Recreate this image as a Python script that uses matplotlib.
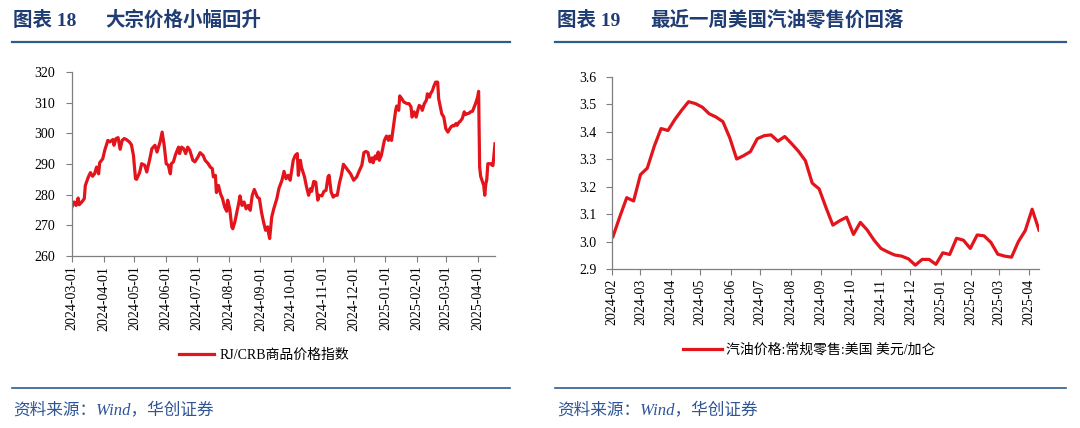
import pandas as pd
import matplotlib
matplotlib.use('Agg')
from matplotlib import pyplot as plt
import matplotlib.dates as mdates
from matplotlib.lines import Line2D
from matplotlib.ticker import FormatStrFormatter

plt.rcParams['font.family'] = ['Liberation Serif', 'Noto Sans CJK SC']
plt.rcParams['axes.unicode_minus'] = False

# 图表18 RJ/CRB商品价格指数
crb_dates = [
    '2024-03-01', '2024-03-03', '2024-03-05', '2024-03-07', '2024-03-08', '2024-03-11', '2024-03-13', '2024-03-14',
    '2024-03-17', '2024-03-19', '2024-03-21', '2024-03-23', '2024-03-25', '2024-03-27', '2024-03-28', '2024-03-31',
    '2024-04-02', '2024-04-05', '2024-04-07', '2024-04-10', '2024-04-11', '2024-04-13', '2024-04-15', '2024-04-17',
    '2024-04-19', '2024-04-21', '2024-04-23', '2024-04-26', '2024-04-28', '2024-04-30',
    '2024-05-02', '2024-05-03', '2024-05-06', '2024-05-08', '2024-05-11', '2024-05-13', '2024-05-16', '2024-05-18',
    '2024-05-21', '2024-05-23', '2024-05-26', '2024-05-28', '2024-05-30',
    '2024-06-01', '2024-06-03', '2024-06-05', '2024-06-06', '2024-06-08', '2024-06-10', '2024-06-13', '2024-06-14',
    '2024-06-16', '2024-06-18', '2024-06-20', '2024-06-22', '2024-06-24', '2024-06-27', '2024-06-29',
    '2024-07-02', '2024-07-04', '2024-07-07', '2024-07-09', '2024-07-12', '2024-07-14', '2024-07-16', '2024-07-17',
    '2024-07-19', '2024-07-20', '2024-07-22', '2024-07-24', '2024-07-26', '2024-07-28', '2024-07-30', '2024-07-31',
    '2024-08-02', '2024-08-04', '2024-08-05', '2024-08-07', '2024-08-09', '2024-08-11', '2024-08-12', '2024-08-14',
    '2024-08-16', '2024-08-18', '2024-08-20', '2024-08-22', '2024-08-24', '2024-08-26', '2024-08-29', '2024-08-31',
    '2024-09-02', '2024-09-04', '2024-09-06', '2024-09-08', '2024-09-09', '2024-09-10', '2024-09-12', '2024-09-14',
    '2024-09-17', '2024-09-19', '2024-09-22', '2024-09-24', '2024-09-26', '2024-09-28', '2024-09-30',
    '2024-10-03', '2024-10-05', '2024-10-07', '2024-10-08', '2024-10-10', '2024-10-11', '2024-10-14', '2024-10-16',
    '2024-10-18', '2024-10-20', '2024-10-21', '2024-10-23', '2024-10-25', '2024-10-27', '2024-10-28', '2024-10-31',
    '2024-11-02', '2024-11-04', '2024-11-06', '2024-11-07', '2024-11-09', '2024-11-11', '2024-11-13', '2024-11-15',
    '2024-11-17', '2024-11-19', '2024-11-21', '2024-11-23', '2024-11-26', '2024-11-28',
    '2024-12-01', '2024-12-04', '2024-12-06', '2024-12-09', '2024-12-11', '2024-12-13', '2024-12-15', '2024-12-17',
    '2024-12-19', '2024-12-20', '2024-12-22', '2024-12-23', '2024-12-25', '2024-12-26', '2024-12-28', '2024-12-30',
    '2024-12-31', '2025-01-02', '2025-01-04', '2025-01-05', '2025-01-07', '2025-01-09', '2025-01-11', '2025-01-12',
    '2025-01-14', '2025-01-15', '2025-01-17', '2025-01-19', '2025-01-22', '2025-01-24', '2025-01-26', '2025-01-27',
    '2025-01-29', '2025-01-31', '2025-02-02', '2025-02-03', '2025-02-05', '2025-02-06', '2025-02-08', '2025-02-10',
    '2025-02-11', '2025-02-13', '2025-02-14', '2025-02-16', '2025-02-17', '2025-02-19', '2025-02-21', '2025-02-22',
    '2025-02-23', '2025-02-25', '2025-02-27', '2025-03-01', '2025-03-03', '2025-03-04', '2025-03-06', '2025-03-08',
    '2025-03-09', '2025-03-11', '2025-03-12', '2025-03-14', '2025-03-15', '2025-03-17', '2025-03-19', '2025-03-20',
    '2025-03-22', '2025-03-24', '2025-03-25', '2025-03-27', '2025-03-28', '2025-03-30', '2025-04-01', '2025-04-02',
    '2025-04-03', '2025-04-04', '2025-04-07', '2025-04-08', '2025-04-09', '2025-04-10', '2025-04-11', '2025-04-14',
    '2025-04-15', '2025-04-16', '2025-04-18',
]
crb_values = [
    276.0, 277.6, 276.5, 278.9, 276.7, 277.8, 278.7, 283.0,
    285.8, 287.2, 286.0, 286.8, 289.0, 286.8, 290.4, 291.7,
    294.5, 297.7, 297.2, 298.0, 296.1, 298.3, 298.6, 294.8,
    297.7, 298.3, 298.0, 297.2, 296.3, 292.8,
    285.2, 285.0, 287.2, 290.1, 289.6, 287.4, 291.7, 295.0,
    296.1, 293.9, 297.2, 300.4, 296.1,
    290.1, 289.6, 286.8, 290.1, 290.7, 293.0, 295.5, 293.4,
    295.5, 295.0, 293.4, 295.5, 294.5, 291.2, 290.7,
    292.3, 293.7, 292.8, 291.2, 290.1, 289.0, 288.5, 285.8,
    286.3, 280.7, 283.0, 280.3, 278.7, 276.0, 274.6, 278.2,
    275.4, 269.5, 268.9, 271.1, 274.3, 277.6, 279.6, 276.5,
    277.6, 275.4, 276.5, 274.9, 279.8, 281.7, 279.2, 278.7,
    274.3, 271.1, 268.4, 269.5, 267.3, 265.7, 272.7, 275.4,
    278.7, 282.0, 284.7, 287.6, 285.2, 286.3, 284.7,
    291.2, 292.8, 293.4, 286.3, 291.2, 289.0, 285.8, 282.5,
    279.8, 282.0, 281.1, 284.3, 284.1, 278.2, 279.8, 279.6,
    281.1, 281.4, 285.8, 286.3, 280.9, 279.2, 279.8, 279.8,
    283.6, 286.3, 289.9, 289.0, 287.6, 286.8,
    284.7, 285.8, 287.4, 289.6, 293.7, 294.1, 293.7, 290.7,
    292.0, 290.4, 292.6, 291.7, 293.9, 291.2, 292.8, 296.1,
    297.7, 299.1, 297.7, 299.1, 297.7, 302.6, 307.5, 308.9,
    307.5, 312.2, 311.3, 310.2, 309.7, 309.7, 308.6, 305.3,
    307.0, 305.3, 308.0, 309.1, 308.6, 307.5, 309.7, 310.8,
    312.9, 311.8, 312.9, 314.0, 315.1, 316.7, 316.7, 311.3,
    309.7, 306.4, 305.3, 301.5, 300.4, 301.0, 302.1, 302.6,
    302.4, 303.2, 302.6, 303.7, 303.9, 304.8, 307.0, 306.1,
    306.4, 306.6, 307.0, 307.2, 308.0, 309.7, 311.8, 313.7,
    289.0, 286.0, 283.0, 279.8, 283.4, 285.0, 290.1, 290.1,
    289.6, 289.5, 296.6,
]
crb_ticks = pd.date_range('2024-03-01', '2025-04-01', freq='MS')

# 图表19 汽油价格:常规零售:美国(周)
gas_dates = pd.date_range('2024-02-02', periods=63, freq='7D')
gas_values = [
    3.018, 3.091, 3.160, 3.148, 3.244, 3.268, 3.347, 3.412, 3.405, 3.445,
    3.479, 3.510, 3.503, 3.490, 3.466, 3.454, 3.437, 3.378, 3.301, 3.313,
    3.328, 3.375, 3.386, 3.389, 3.366, 3.383, 3.357, 3.329, 3.295, 3.213,
    3.192, 3.124, 3.060, 3.076, 3.089, 3.026, 3.070, 3.042, 3.005, 2.975,
    2.962, 2.951, 2.947, 2.937, 2.914, 2.935, 2.935, 2.917, 2.959, 2.953,
    3.012, 3.005, 2.975, 3.024, 3.021, 2.997, 2.954, 2.947, 2.943, 3.000,
    3.040, 3.118, 3.042,
]
gas_ticks = pd.date_range('2024-02-01', '2025-04-01', freq='MS')

red = '#E3141C'
navy = '#1F3C73'
rule = '#2E5C8A'
source_blue = '#2F5597'
spine_gray = '#7F7F7F'


def style_axes(ax):
    for s in ['top', 'right']:
        ax.spines[s].set_visible(False)
    for s in ['left', 'bottom']:
        ax.spines[s].set_color(spine_gray)
        ax.spines[s].set_linewidth(0.9)
    ax.tick_params(axis='both', direction='out', length=4, width=0.8, color=spine_gray,
                   labelsize=10, labelcolor='black')
    ax.tick_params(axis='x', rotation=90, pad=3)


fig = plt.figure(figsize=(10.8, 4.28), dpi=100)

ax1 = fig.add_axes([72 / 1080, 1 - 256 / 428, (495 - 72) / 1080, (256 - 72) / 428])
ax1.plot(pd.to_datetime(crb_dates), crb_values, color=red, lw=2.3, label='RJ/CRB商品价格指数')
ax1.set_ylim(260, 320)
ax1.set_yticks(range(260, 321, 10))
ax1.set_xlim(pd.Timestamp('2024-03-01'), pd.Timestamp('2025-04-18'))
ax1.set_xticks(crb_ticks)
ax1.xaxis.set_major_formatter(mdates.DateFormatter('%Y-%m-%d'))
style_axes(ax1)
ax1.tick_params(axis='y', pad=8)
ax1.legend(loc='center', bbox_to_anchor=(264 / 1080, 1 - 355 / 428), bbox_transform=fig.transFigure,
           frameon=False, fontsize=10, handlelength=2.5, handletextpad=0.4)

ax2 = fig.add_axes([612 / 1080, 1 - 269 / 428, (1039 - 612) / 1080, (269 - 77) / 428])
ax2.plot(gas_dates, gas_values, color=red, lw=2.3, label='汽油价格:常规零售:美国 美元/加仑')
ax2.set_ylim(2.9, 3.6)
ax2.set_yticks([2.9, 3.0, 3.1, 3.2, 3.3, 3.4, 3.5, 3.6])
ax2.yaxis.set_major_formatter(FormatStrFormatter('%.1f'))
ax2.set_xlim(pd.Timestamp('2024-02-01'), pd.Timestamp('2025-04-11'))
ax2.set_xticks(gas_ticks)
ax2.xaxis.set_major_formatter(mdates.DateFormatter('%Y-%m'))
style_axes(ax2)
ax2.tick_params(axis='y', pad=7)
ax2.legend(loc='center', bbox_to_anchor=(809 / 1080, 1 - 350 / 428), bbox_transform=fig.transFigure,
           frameon=False, fontsize=10, handlelength=2.8, handletextpad=0.3)

# 标题与分隔线
fig.text(13 / 1080, 1 - 20 / 428, '图表 18', color=navy, fontsize=14, fontweight='bold', va='center')
fig.text(105 / 1080, 1 - 20 / 428, '大宗价格小幅回升', color=navy, fontsize=14, fontweight='bold', va='center')
fig.text(557 / 1080, 1 - 20 / 428, '图表 19', color=navy, fontsize=14, fontweight='bold', va='center')
fig.text(650 / 1080, 1 - 20 / 428, '最近一周美国汽油零售价回落', color=navy, fontsize=14, fontweight='bold', va='center')

for x0, x1 in [(12, 510), (555, 1066)]:
    fig.add_artist(Line2D([x0 / 1080, x1 / 1080], [1 - 42 / 428] * 2, transform=fig.transFigure, color=rule, lw=1.6))
    fig.add_artist(Line2D([x0 / 1080, x1 / 1080], [1 - 388 / 428] * 2, transform=fig.transFigure, color=rule, lw=1.2))

fig.text(13 / 1080, 1 - 410 / 428, '资料来源：Wind，华创证券', color=source_blue, fontsize=12, style='italic', va='center')
fig.text(557 / 1080, 1 - 410 / 428, '资料来源：Wind，华创证券', color=source_blue, fontsize=12, style='italic', va='center')

fig.savefig('out.png', dpi=100)
